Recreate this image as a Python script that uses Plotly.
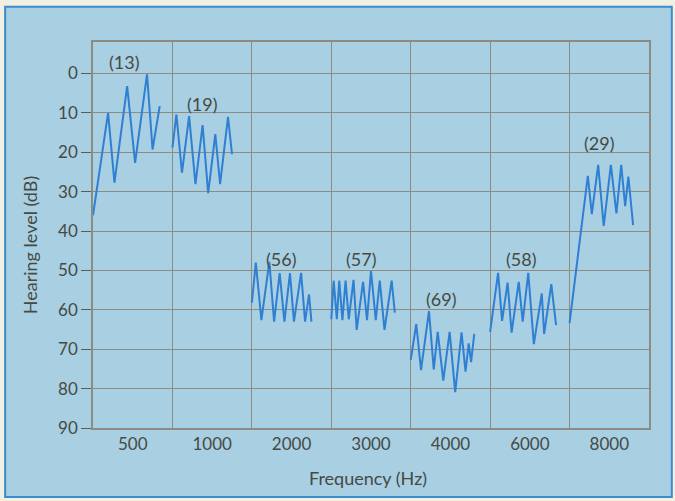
import plotly.graph_objects as go

# Frequency bands (columns of the audiogram)
frequencies = ["500", "1000", "2000", "3000", "4000", "6000", "8000"]

# Bekesy tracing per band: position within the band (0-1) and hearing level (dB)
t_500 = [0.00, 0.19, 0.27, 0.43, 0.53, 0.68, 0.75, 0.84]
db_500 = [36, 10, 27.7, 3.2, 22.7, 0.2, 19.3, 8.3]

t_1000 = [0.00, 0.05, 0.12, 0.21, 0.29, 0.38, 0.45, 0.54, 0.60, 0.70, 0.75]
db_1000 = [18.8, 10.4, 25.2, 10.8, 28.1, 13.1, 30.4, 15.4, 28.1, 11.0, 20.5]

t_2000 = [0.00, 0.05, 0.12, 0.22, 0.28, 0.35, 0.41, 0.48, 0.53, 0.62, 0.67, 0.72, 0.75]
db_2000 = [58.2, 48.0, 62.6, 47.8, 63.0, 50.7, 63.0, 50.7, 63.0, 50.6, 63.0, 56.1, 63.0]

t_3000 = [0.00, 0.03, 0.07, 0.10, 0.14, 0.18, 0.22, 0.28, 0.32, 0.40, 0.45, 0.50,
          0.56, 0.61, 0.67, 0.76, 0.80]
db_3000 = [62.4, 52.6, 62.4, 52.6, 62.6, 52.6, 62.4, 52.4, 65.1, 52.9, 62.6, 50.1,
           62.6, 52.6, 65.1, 52.6, 60.7]

t_4000 = [0.00, 0.07, 0.13, 0.23, 0.29, 0.34, 0.41, 0.49, 0.56, 0.64, 0.69, 0.73, 0.76, 0.80]
db_4000 = [72.7, 63.6, 75.3, 60.3, 75.1, 65.6, 78.0, 65.6, 80.9, 65.7, 75.7, 68.5, 73.3, 66.1]

t_6000 = [0.00, 0.10, 0.15, 0.22, 0.27, 0.36, 0.41, 0.48, 0.55, 0.65, 0.68, 0.77, 0.83]
db_6000 = [65.6, 50.6, 62.8, 53.1, 65.8, 52.9, 63.0, 50.6, 68.7, 55.8, 66.1, 53.5, 63.9]

t_8000 = [0.00, 0.23, 0.28, 0.36, 0.43, 0.52, 0.59, 0.65, 0.70, 0.74, 0.80]
db_8000 = [63.3, 26.0, 35.7, 23.2, 38.7, 23.2, 35.5, 23.2, 33.7, 26.2, 38.5]

# Average hearing level labels for each band
band_labels = ["(13)", "(19)", "(56)", "(57)", "(69)", "(58)", "(29)"]
label_t = [0.40, 0.38, 0.37, 0.38, 0.39, 0.40, 0.38]
label_db = [-3.0, 7.8, 47.2, 47.2, 57.3, 47.2, 17.6]

segments_t = [t_500, t_1000, t_2000, t_3000, t_4000, t_6000, t_8000]
segments_db = [db_500, db_1000, db_2000, db_3000, db_4000, db_6000, db_8000]

FONT = "Lato"
TEXT = "#454a44"
GRID = "#8c8c82"
LINE_BLUE = "#2f7fd2"

fig = go.Figure()
for i, (ts, dbs) in enumerate(zip(segments_t, segments_db)):
    fig.add_trace(go.Scatter(
        x=[i + t for t in ts], y=dbs, mode="lines",
        line=dict(color=LINE_BLUE, width=2), showlegend=False, hoverinfo="skip"))

for i, (lab, lt, ld) in enumerate(zip(band_labels, label_t, label_db)):
    fig.add_annotation(x=i + lt, y=ld, xref="x", yref="y", text=lab, showarrow=False,
                       font=dict(family=FONT, size=18, color=TEXT))

# axis titles
fig.add_annotation(x=-0.113, y=0.474, xref="paper", yref="paper", text="Hearing level (dB)",
                   textangle=-90, showarrow=False, xanchor="center", yanchor="middle",
                   font=dict(family=FONT, size=18, color=TEXT))
fig.add_annotation(x=0.495, y=-0.13, xref="paper", yref="paper", text="Frequency (Hz)",
                   showarrow=False, xanchor="center", yanchor="middle",
                   font=dict(family=FONT, size=18, color=TEXT))

# outer blue frame
fig.add_shape(type="rect", xref="paper", yref="paper",
              x0=-0.158, x1=1.041, y0=-0.179, y1=1.091,
              fillcolor="#a9cfe2", line=dict(color="#3a8ccb", width=2), layer="below")

fig.update_layout(
    width=675, height=501,
    margin=dict(l=93, r=26, t=42, b=73),
    paper_bgcolor="#f2f0e4",
    plot_bgcolor="#f8f5e9",
    font=dict(family=FONT, color=TEXT, size=17),
    xaxis=dict(
        range=[0, 7],
        tickvals=[i + 0.5 for i in range(len(frequencies))],
        ticktext=frequencies,
        showgrid=False,
        ticks="",
        tickfont=dict(size=17, color=TEXT),
        minor=dict(tick0=0, dtick=1, showgrid=True, gridcolor=GRID, gridwidth=1, ticks=""),
        showline=True, linecolor=GRID, linewidth=1.5, mirror=True,
        zeroline=False,
    ),
    yaxis=dict(
        range=[90, -8],
        tickvals=list(range(0, 91, 10)),
        ticks="outside", ticklen=10, tickcolor="#5a5b56", tickwidth=1.2,
        showgrid=True, gridcolor=GRID, gridwidth=1,
        tickfont=dict(size=17, color=TEXT),
        showline=True, linecolor=GRID, linewidth=1.5, mirror=True,
        zeroline=False,
    ),
)

fig.write_html("out.html")
